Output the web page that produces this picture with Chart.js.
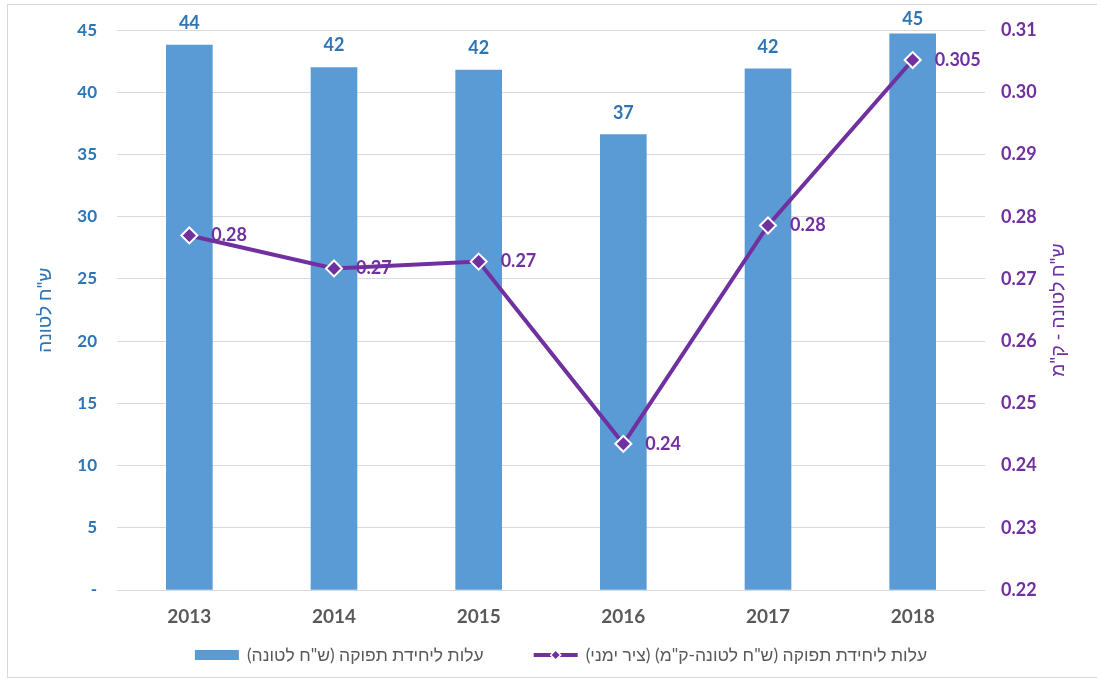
<!DOCTYPE html>
<html><head><meta charset="utf-8">
<script src="https://cdn.jsdelivr.net/npm/chart.js@4.4.1/dist/chart.umd.min.js"></script>
<style>html,body{margin:0;padding:0;background:#fff;}#wrap{position:relative;width:1097px;height:679px;}</style>
</head><body><div id="wrap"><canvas id="c"></canvas></div>
<script>
const years = ['2013', '2014', '2015', '2016', '2017', '2018'];
const costPerTon = [43.8, 42.0, 41.8, 36.6, 41.9, 44.7];
const costPerTonKm = [0.2770, 0.2717, 0.2728, 0.2435, 0.2786, 0.3052];
const costPerTonKmLabels = ['0.28', '0.27', '0.27', '0.24', '0.28', '0.305'];
const leftTicks = [0, 45, 5];
const rightTicks = [0.22, 0.31, 0.01];
const leftAxisTitle = 'ש"ח לטונה';
const rightAxisTitle = 'ש"ח לטונה - ק"מ';
const barSeriesName = 'עלות ליחידת תפוקה (ש"ח לטונה)';
const lineSeriesName = 'עלות ליחידת תפוקה (ש"ח לטונה-ק"מ) (ציר ימני)';

const BLUE = '#5B9BD5', BLUE_TXT = '#2E75B6', PURPLE = '#7030A0', GRAY = '#595959';
const FONT = "Lato, 'Liberation Sans', sans-serif";

const extras = {
  id: 'extras',
  afterDatasetsDraw(chart) {
    const ctx = chart.ctx;
    ctx.save();
    const barMeta = chart.getDatasetMeta(0);
    ctx.font = 'bold 18px ' + FONT;
    ctx.fillStyle = BLUE_TXT;
    ctx.textAlign = 'center';
    ctx.textBaseline = 'middle';
    barMeta.data.forEach((el, i) => {
      ctx.fillText(String(Math.round(costPerTon[i])), el.x, Math.max(el.y - 22, 19));
    });
    const lineMeta = chart.getDatasetMeta(1);
    ctx.fillStyle = PURPLE;
    ctx.textAlign = 'left';
    ctx.textBaseline = 'middle';
    lineMeta.data.forEach((el, i) => {
      ctx.fillText(costPerTonKmLabels[i], el.x + 22, el.y);
    });
    ctx.restore();
  },
  afterDraw(chart) {
    const ctx = chart.ctx;
    const ca = chart.chartArea;
    ctx.save();
    ctx.strokeStyle = '#D9D9D9';
    ctx.lineWidth = 1;
    ctx.strokeRect(7.5, 4.5, 1100, 673);
    const cy = (ca.top + ca.bottom) / 2;
    ctx.font = '19px ' + FONT;
    ctx.textAlign = 'center';
    ctx.textBaseline = 'middle';
    ctx.direction = 'rtl';
    ctx.fillStyle = BLUE_TXT;
    ctx.save(); ctx.translate(45, cy); ctx.rotate(-Math.PI / 2); ctx.fillText(leftAxisTitle, 0, 0); ctx.restore();
    ctx.fillStyle = PURPLE;
    ctx.save(); ctx.translate(1058, cy); ctx.rotate(-Math.PI / 2); ctx.fillText(rightAxisTitle, 0, 0); ctx.restore();
    ctx.font = '17.5px ' + FONT;
    ctx.fillStyle = GRAY;
    ctx.textAlign = 'right';
    const ly = 655;
    const symW = 44, gapIn = 8, gapOut = 50;
    const w1 = ctx.measureText(lineSeriesName).width;
    const w2 = ctx.measureText(barSeriesName).width;
    const total = w1 + gapIn + symW + gapOut + w2 + gapIn + symW;
    let x = 561 + total / 2;
    ctx.fillText(lineSeriesName, x, ly);
    x -= w1 + gapIn;
    ctx.strokeStyle = PURPLE; ctx.lineWidth = 4;
    ctx.beginPath(); ctx.moveTo(x - symW, ly); ctx.lineTo(x, ly); ctx.stroke();
    ctx.fillStyle = PURPLE; ctx.strokeStyle = '#fff'; ctx.lineWidth = 1.5;
    ctx.beginPath(); const mx = x - symW / 2;
    ctx.moveTo(mx, ly - 5); ctx.lineTo(mx + 5, ly); ctx.lineTo(mx, ly + 5); ctx.lineTo(mx - 5, ly); ctx.closePath();
    ctx.fill(); ctx.stroke();
    x -= symW + gapOut;
    ctx.fillStyle = GRAY;
    ctx.fillText(barSeriesName, x, ly);
    x -= w2 + gapIn;
    ctx.fillStyle = BLUE;
    ctx.fillRect(x - symW, ly - 5, symW, 10);
    ctx.restore();
  }
};

new Chart(document.getElementById('c'), {
  type: 'bar',
  data: {
    labels: years,
    datasets: [
      { type: 'bar', label: barSeriesName, data: costPerTon, yAxisID: 'y', backgroundColor: BLUE, barThickness: 46, order: 1 },
      { type: 'line', label: lineSeriesName, data: costPerTonKm, yAxisID: 'y1', borderColor: PURPLE, borderWidth: 4,
        pointStyle: 'rectRot', pointRadius: 8, pointBackgroundColor: PURPLE, pointBorderColor: '#fff', pointBorderWidth: 2,
        tension: 0, order: 0 }
    ]
  },
  options: {
    responsive: true, maintainAspectRatio: false, animation: false,
    layout: { padding: { top: 28, bottom: 49, left: 0, right: 0 } },
    plugins: { legend: { display: false }, tooltip: { enabled: false } },
    scales: {
      x: {
        grid: { display: false }, border: { display: false },
        ticks: { color: GRAY, font: { family: FONT, size: 19, weight: 'bold' }, padding: 7 },
        afterFit(s) { s.height = 40; }
      },
      y: {
        position: 'left', min: leftTicks[0], max: leftTicks[1],
        ticks: { stepSize: leftTicks[2], color: BLUE_TXT, font: { family: FONT, size: 17, weight: 'bold' }, padding: 20,
          callback: v => v === 0 ? '-' : String(v) },
        grid: { color: '#D9D9D9', drawTicks: false }, border: { display: false },
        afterFit(s) { s.width = 117; }
      },
      y1: {
        position: 'right', min: rightTicks[0], max: rightTicks[1],
        ticks: { stepSize: rightTicks[2], color: PURPLE, font: { family: FONT, size: 18, weight: 'bold' }, padding: 16,
          callback: v => Number(v).toFixed(2) },
        grid: { display: false, drawTicks: false }, border: { display: false },
        afterFit(s) { s.width = 112; }
      }
    }
  },
  plugins: [extras]
});
</script></body></html>
